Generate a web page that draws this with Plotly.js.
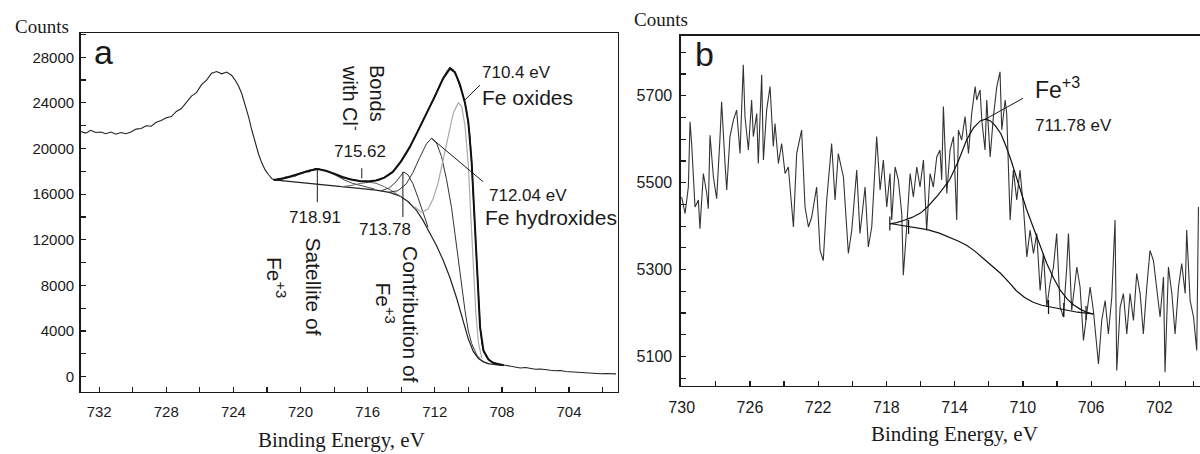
<!DOCTYPE html>
<html>
<head>
<meta charset="utf-8">
<script src="https://cdn.plot.ly/plotly-3.0.1.min.js"></script>
<style>html,body{margin:0;padding:0;background:#fff;}#chart{width:1200px;height:454px;}</style>
</head>
<body>
<div id="chart"></div>
<script>
// ---------- Panel a : Fe 2p spectrum (counts vs binding energy) ----------
const energyA = [733.1,732.8,732.5,732.2,731.9,731.6,731.3,731.0,730.7,730.4,730.1,729.8,729.5,729.2,728.9,728.6,728.3,728.0,727.7,727.4,727.1,726.8,726.5,726.2,725.9,725.6,725.3,725.0,724.7,724.4,724.1,723.9,723.7,723.5,723.3,723.1,722.9,722.7,722.5,722.3,722.1,721.9,721.7,721.5,721.3,721.1,720.9,720.7,720.5,720.3,720.1,719.9,719.7,719.5,719.3,719.1,718.9,718.7,718.5,718.3,718.1,717.9,717.7,717.5,717.3,717.1,716.9,716.7,716.5,716.3,716.1,715.9,715.7,715.5,715.3,715.1,714.9,714.7,714.5,714.3,714.1,713.9,713.7,713.5,713.3,713.1,712.9,712.7,712.5,712.3,712.1,711.9,711.7,711.5,711.3,711.1,710.9,710.7,710.5,710.3,710.1,709.9,709.8,709.7,709.6,709.5,709.4,709.3,709.2,709.1,708.9,708.7,708.5,708.3,708.1,707.8,707.5,707.2,706.9,706.6,706.3,706.0,705.7,705.4,705.1,704.8,704.5,704.2,703.9,703.6,703.3,703.0,702.7,702.4,702.1,701.8,701.5,701.2];
const countsA = [21500,21350,21600,21400,21450,21300,21450,21250,21400,21300,21450,21700,21750,22000,21950,22300,22450,22700,22800,23250,23500,24100,24600,24900,25600,26000,26600,26750,26550,26700,26400,26000,25500,24800,23900,22800,21600,20500,19500,18700,18100,17700,17350,17250,17300,17350,17500,17450,17650,17600,17800,17850,18000,17950,18150,18250,18200,18150,18050,17950,17850,17700,17600,17450,17400,17300,17250,17200,17150,17100,17150,17100,17150,17200,17250,17400,17550,17750,18000,18300,18700,19150,19600,20100,20700,21300,21900,22500,23000,23600,24200,24900,25600,26200,26700,27100,26900,26300,25500,24600,23300,21000,18500,15500,12500,9500,6800,4500,3000,2200,1700,1400,1250,1150,1050,1000,900,820,760,800,720,650,680,600,560,520,540,460,430,450,380,360,300,320,260,280,240,250];

// fitted envelope (sum of components)
const envEnergyA = [721.6,721.0,720.5,720.0,719.5,719.0,718.5,718.0,717.5,717.0,716.5,716.0,715.5,715.0,714.5,714.0,713.5,713.0,712.5,712.0,711.5,711.1,710.8,710.5,710.2,710.0,709.8,709.6,709.45,709.3,709.1,708.8,708.5,708.2,707.9];
const envCountsA = [17250,17400,17600,17850,18050,18200,18050,17800,17500,17280,17150,17120,17200,17450,17950,18900,20100,21550,23000,24550,26150,27000,26700,25600,24000,22300,18800,13000,8000,4300,2300,1500,1200,1080,1000];

// Shirley background
const bgEnergyA = [721.6,720.5,719.5,718.5,717.5,716.5,715.5,714.7,714.1,713.6,713.1,712.7,712.3,711.9,711.5,711.1,710.7,710.3,710.0,709.7,709.4,709.1,708.8,708.4,707.9];
const bgCountsA = [17250,17100,16950,16800,16650,16500,16350,16150,15850,15350,14600,13700,12600,11500,10200,8700,6900,4800,3300,2200,1600,1300,1150,1050,1000];

// components
const satEnergyA = [721.6,721.0,720.4,719.9,719.4,718.9,718.4,717.9,717.4,716.9,716.3,715.6];
const satCountsA = [17250,17350,17550,17850,18100,18200,18000,17650,17250,16950,16700,16450];
const clEnergyA = [717.6,717.0,716.4,715.9,715.5,715.0,714.5,714.0];
const clCountsA = [16650,16750,16950,17050,16950,16650,16250,15750];
const fe3EnergyA = [715.2,714.7,714.3,714.0,713.85,713.6,713.3,713.0,712.7,712.4];
const fe3CountsA = [16300,16550,17100,17700,17950,17700,16900,15700,14300,13100];
const hydEnergyA = [714.8,714.2,713.7,713.3,712.9,712.5,712.2,711.9,711.6,711.3,711.0,710.8,710.6,710.4,710.2,710.0,709.8,709.5,709.2,708.8];
const hydCountsA = [16150,16300,16900,17900,19200,20400,20900,20500,19300,17300,14800,12600,10200,7900,5800,4000,2900,1900,1400,1100];
const oxEnergyA = [713.2,712.8,712.4,712.1,711.8,711.5,711.2,710.9,710.6,710.4,710.2,710.0,709.85,709.7,709.55,709.4,709.2];
const oxCountsA = [14900,14400,14700,15600,17000,19000,21300,23100,24000,23700,22000,18500,14000,9500,5500,3000,1600];

// ---------- Panel b ----------
const energyB = [730.00,729.80,729.61,729.51,729.41,729.22,729.02,728.93,728.73,728.53,728.44,728.34,728.14,727.95,727.75,727.66,727.46,727.36,727.17,726.97,726.78,726.58,726.39,726.29,726.09,725.90,725.80,725.60,725.51,725.31,725.21,725.02,724.82,724.63,724.53,724.33,724.14,723.94,723.75,723.45,723.26,722.97,722.77,722.57,722.38,722.09,721.89,721.70,721.50,721.21,721.01,720.82,720.52,720.23,720.03,719.74,719.55,719.25,719.06,718.86,718.57,718.37,718.18,717.98,717.79,717.69,717.49,717.30,717.10,717.01,716.81,716.61,716.42,716.22,
716.03,715.83,715.64,715.44,715.25,715.05,714.86,714.76,714.66,714.46,714.27,714.07,713.88,713.78,713.59,713.39,713.19,713.00,712.80,712.71,712.51,712.41,712.22,712.12,711.92,711.73,711.53,711.34,711.24,711.04,710.95,710.75,710.56,710.36,710.17,709.97,709.77,709.58,709.38,709.19,708.99,708.80,708.60,708.41,708.21,708.02,707.82,707.63,707.43,707.33,707.14,707.04,706.84,706.65,706.45,706.26,706.06,705.87,705.57,705.38,705.18,704.99,704.79,704.60,704.50,704.30,704.11,703.91,703.72,703.52,703.33,703.13,702.94,702.74,702.55,702.35,702.15,701.96,701.76,701.67,701.47,701.27,701.08,700.88,700.69,700.49,700.40,700.20,700.00,699.81,699.71];
const countsB = [5467,5429,5490,5640,5586,5444,5460,5394,5521,5475,5440,5609,5513,5463,5606,5686,5544,5483,5606,5644,5667,5567,5771,5652,5575,5690,5606,5659,5544,5748,5552,5667,5721,5583,5636,5544,5590,5521,5536,5398,5567,5621,5444,5398,5421,5490,5344,5321,5460,5590,5460,5567,5513,5337,5391,5529,5383,5490,5352,5398,5606,5483,5552,5444,5521,5414,5536,5506,5429,5287,5398,5521,5467,5536,
5490,5552,5390,5521,5490,5559,5575,5506,5675,5475,5575,5606,5414,5621,5598,5652,5567,5659,5721,5690,5713,5644,5575,5690,5559,5652,5721,5755,5621,5690,5659,5414,5529,5460,5529,5444,5329,5391,5337,5383,5252,5337,5214,5268,5306,5383,5214,5191,5306,5383,5206,5245,5306,5260,5137,5198,5260,5206,5083,5183,5229,5152,5237,5414,5068,5214,5245,5152,5245,5183,5291,5245,5152,5260,5344,5321,5252,5191,5283,5064,5306,5245,5152,5260,5314,5245,5391,5229,5191,5114,5444];

const envEnergyB = [717.8,717.4,717.0,716.5,716.0,715.6,715.0,714.3,713.8,713.3,712.9,712.5,712.2,711.9,711.6,711.3,711.0,710.7,710.2,709.8,709.4,709.0,708.6,708.2,707.8,707.4,707.0,706.6,706.26,705.87];
const envCountsB = [5405,5408,5413,5420,5430,5444,5470,5506,5548,5598,5626,5642,5646,5642,5630,5613,5585,5552,5490,5440,5398,5355,5314,5280,5252,5232,5218,5208,5202,5198];
const bgEnergyB = [717.8,717.2,716.5,715.6,714.9,714.3,713.8,713.3,712.8,712.3,711.8,711.3,710.8,710.4,709.9,709.4,708.9,708.4,707.9,707.4,706.8,706.3,705.87];
const bgCountsB = [5406,5402,5398,5392,5384,5375,5366,5356,5342,5325,5308,5291,5270,5252,5236,5225,5218,5214,5210,5206,5202,5200,5198];
// fit-region end marks drawn on the background
const markEnergyB = [717.8, 716.7, 708.5, 707.6, 706.3];
const markCountsB = [5406, 5398, 5214, 5207, 5200];

// ---------- helpers ----------
const W = 1200, H = 454;
const px = x => x / W;
const py = y => 1 - y / H;
const SANS = 'Liberation Sans, Arial, sans-serif';
const SERIF = 'Liberation Serif, Times New Roman, serif';
const INK = '#1a1a1a';

function line(x, y, xa, ya, color, width) {
  return {x: x, y: y, xaxis: xa, yaxis: ya, type: 'scatter', mode: 'lines',
          line: {color: color, width: width, shape: 'linear'}, hoverinfo: 'skip'};
}

const traces = [
  line(energyA, countsA, 'x', 'y', '#222', 1.1),
  line(bgEnergyA, bgCountsA, 'x', 'y', '#222', 1.2),
  line(satEnergyA, satCountsA, 'x', 'y', '#444', 1),
  line(clEnergyA, clCountsA, 'x', 'y', '#666', 1),
  line(fe3EnergyA, fe3CountsA, 'x', 'y', '#333', 1),
  line(hydEnergyA, hydCountsA, 'x', 'y', '#333', 1),
  line(oxEnergyA, oxCountsA, 'x', 'y', '#aaaaaa', 1.2),
  line(envEnergyA, envCountsA, 'x', 'y', '#111', 2),
  line(energyB, countsB, 'x2', 'y2', '#333', 1.1),
  line(bgEnergyB, bgCountsB, 'x2', 'y2', '#111', 1.2),
  line(envEnergyB, envCountsB, 'x2', 'y2', '#111', 1.2),
  {x: markEnergyB, y: markCountsB, xaxis: 'x2', yaxis: 'y2', type: 'scatter', mode: 'markers',
   marker: {symbol: 'line-ns-open', size: 10, color: '#111', line: {color: '#111', width: 1.2}}, hoverinfo: 'skip'}
];

function axisBase(extra) {
  return Object.assign({
    showline: true, linecolor: INK, linewidth: 1.6, showgrid: false, zeroline: false,
    ticks: 'inside', ticklen: 5, tickwidth: 1.2, tickcolor: INK,
    tickformat: 'd', exponentformat: 'none', separatethousands: false,
    tickfont: {family: SANS, size: 15, color: INK}
  }, extra);
}

const layout = {
  width: W, height: H, margin: {l: 0, r: 0, t: 0, b: 0},
  paper_bgcolor: '#fff', plot_bgcolor: '#fff', showlegend: false,
  xaxis: axisBase({domain: [px(80.7), px(617.7)], range: [733.1, 701.1], anchor: 'y', mirror: true,
    tickmode: 'linear', tick0: 0, dtick: 4, ticklabelstandoff: 6,
    minor: {tickmode: 'linear', tick0: 0, dtick: 2, ticks: 'inside', ticklen: 5, tickcolor: INK, showgrid: false}}),
  yaxis: axisBase({domain: [py(391.7), py(33.3)], range: [-1315, 30100], anchor: 'x', mirror: true,
    tickmode: 'linear', tick0: 0, dtick: 4000, ticklabelstandoff: 2,
    minor: {tickmode: 'linear', tick0: 0, dtick: 2000, ticks: 'inside', ticklen: 5, tickcolor: INK, showgrid: false}}),
  xaxis2: axisBase({domain: [px(681), 1], range: [730.04, 699.62], anchor: 'y2', mirror: true,
    tickmode: 'linear', tick0: 2, dtick: 4, ticklabelstandoff: 6,
    tickfont: {family: SANS, size: 16, color: INK},
    minor: {tickmode: 'linear', tick0: 0, dtick: 2, ticks: 'inside', ticklen: 5, tickcolor: INK, showgrid: false}}),
  yaxis2: axisBase({domain: [py(385.7), py(35.7)], range: [5033, 5838], anchor: 'x2', mirror: false,
    tickmode: 'linear', tick0: 5100, dtick: 200, ticklabelstandoff: 4,
    tickfont: {family: SANS, size: 16, color: INK},
    minor: {tickmode: 'linear', tick0: 5100, dtick: 50, ticks: 'inside', ticklen: 5, tickcolor: INK, showgrid: false}}),
  shapes: [
    // panel a marker / leader lines
    {type: 'line', xref: 'x', yref: 'y', x0: 719.0, x1: 719.0, y0: 18200, y1: 15300, line: {color: INK, width: 1}},
    {type: 'line', xref: 'x', yref: 'y', x0: 716.35, x1: 716.35, y0: 17390, y1: 18270, line: {color: INK, width: 1}},
    {type: 'line', xref: 'x', yref: 'y', x0: 713.9, x1: 713.9, y0: 17940, y1: 14000, line: {color: INK, width: 1}},
    {type: 'line', xref: 'x', yref: 'y', x0: 712.2, x1: 709.12, y0: 20900, y1: 17090, line: {color: INK, width: 1}},
    {type: 'line', xref: 'x', yref: 'y', x0: 710.21, x1: 709.31, y0: 24250, y1: 25560, line: {color: INK, width: 1}},
    // panel b leader
    {type: 'line', xref: 'x2', yref: 'y2', x0: 712.2, x1: 710.0, y0: 5646, y1: 5694, line: {color: INK, width: 1}}
  ],
  annotations: []
};

function ann(text, x, y, size, opts) {
  layout.annotations.push(Object.assign({
    text: text, xref: 'paper', yref: 'paper', x: px(x), y: py(y), showarrow: false,
    xanchor: 'center', yanchor: 'middle', font: {family: SANS, size: size, color: INK}
  }, opts || {}));
}

// axis titles / panel letters
ann('Counts', 42, 26, 19, {font: {family: SERIF, size: 19, color: INK}});
ann('Counts', 661, 19.5, 19, {font: {family: SERIF, size: 19, color: INK}});
ann('Binding Energy, eV', 341, 440, 21, {font: {family: SERIF, size: 21, color: INK}});
ann('Binding Energy, eV', 955, 434, 21, {font: {family: SERIF, size: 21, color: INK}});
ann('a', 103.5, 52, 34);
ann('b', 704, 54, 34);

// panel a labels
ann('710.4 eV', 480, 72, 17, {xanchor: 'left'});
ann('Fe oxides', 480, 97, 21, {xanchor: 'left'});
ann('712.04 eV', 487, 195, 17, {xanchor: 'left'});
ann('Fe hydroxides', 483, 218, 21, {xanchor: 'left'});
ann('715.62', 360, 152, 17);
ann('718.91', 315, 218, 17);
ann('713.78', 385, 229, 17);
ann('Bonds', 377, 93, 20, {textangle: 90});
ann('with Cl<sup>-</sup>', 352, 98, 20, {textangle: 90});
ann('Satellite of', 313, 286.5, 21, {textangle: 90});
ann('Fe<sup>+3</sup>', 276.5, 277.5, 21, {textangle: 90});
ann('Contribution of', 411, 314, 21, {textangle: 90});
ann('Fe<sup>+3</sup>', 385, 302.5, 21, {textangle: 90});

// panel b labels
ann('Fe<sup>+3</sup>', 1033, 88, 23, {xanchor: 'left'});
ann('711.78 eV', 1033, 125, 17, {xanchor: 'left'});

Plotly.newPlot('chart', traces, layout, {staticPlot: true, displayModeBar: false});
</script>
</body>
</html>
